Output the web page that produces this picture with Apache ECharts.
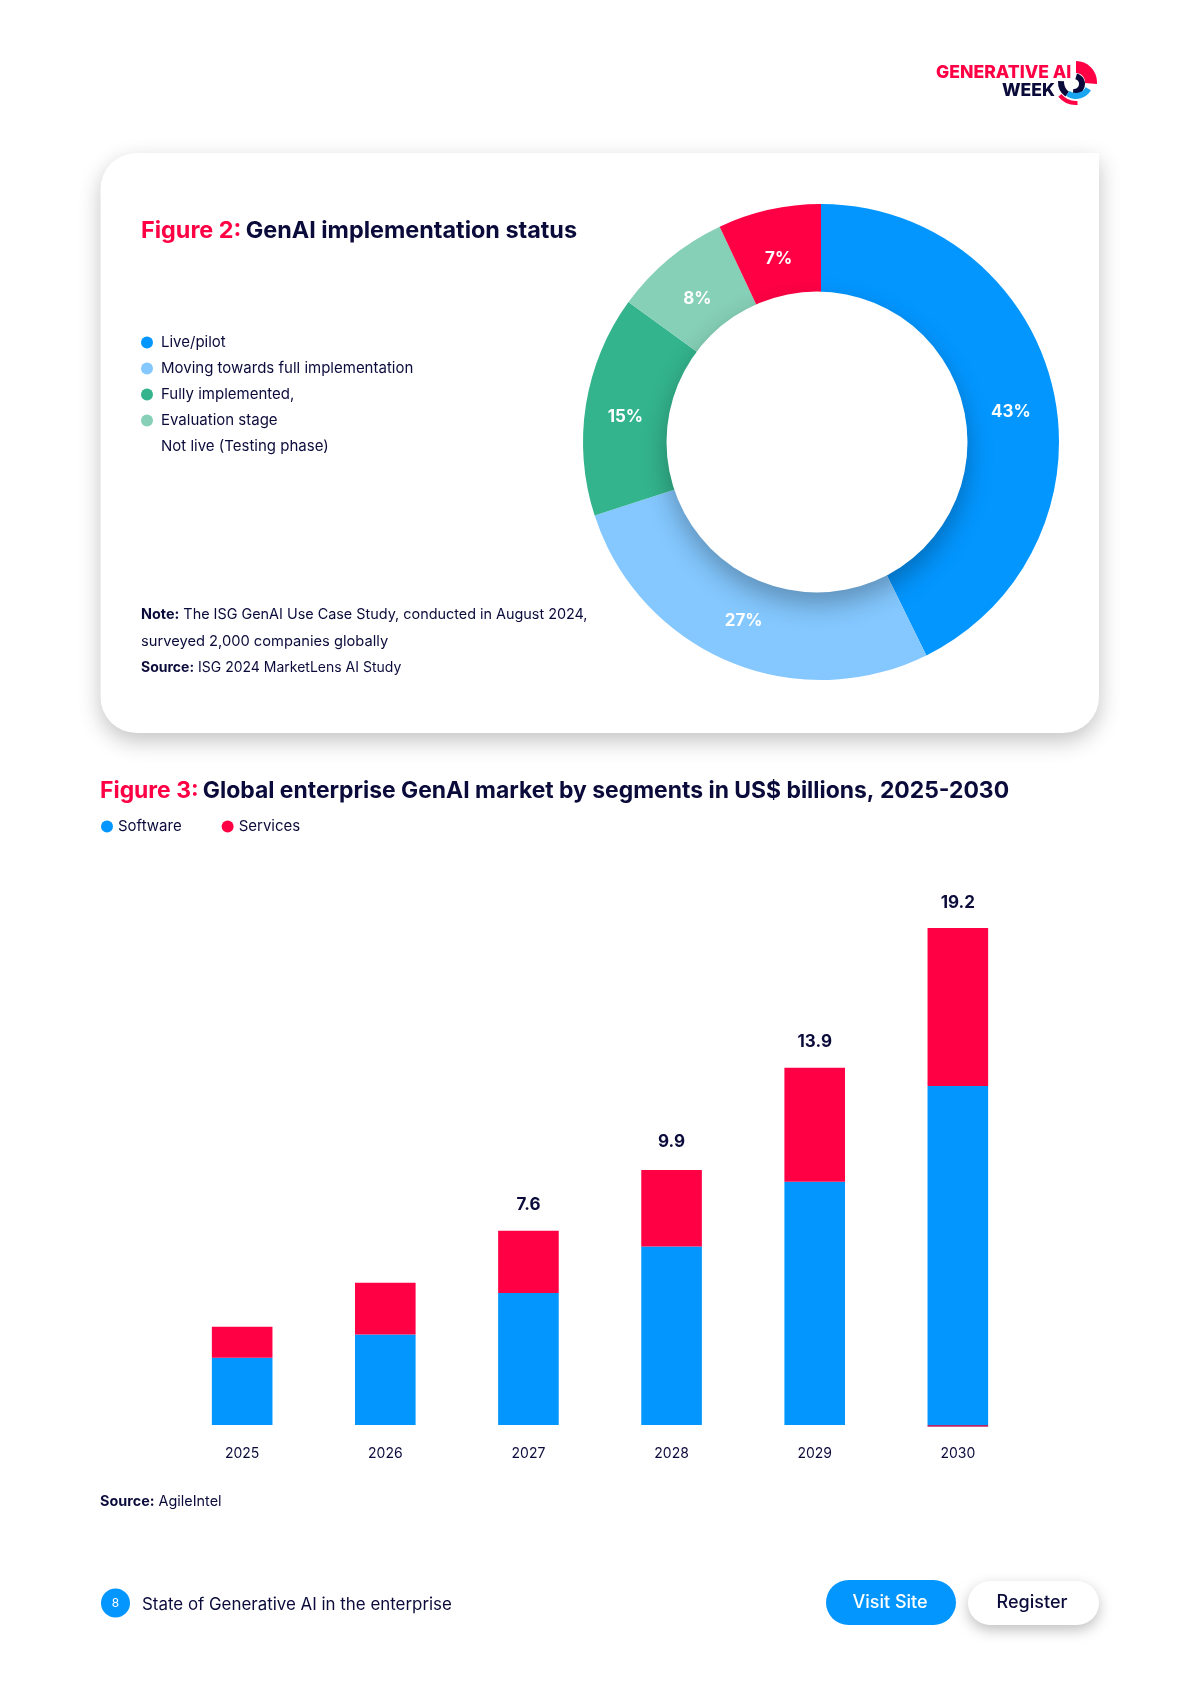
<!DOCTYPE html>
<html><head><meta charset="utf-8">
<script src="https://cdn.jsdelivr.net/npm/echarts@6/dist/echarts.min.js"></script>
<style>html,body{margin:0;padding:0;background:#fff}#c{width:1200px;height:1698px}</style>
</head><body><div id="c"></div>
<script>
const statusNames = ['Live/pilot','Moving towards full implementation','Fully implemented,','Evaluation stage','Not live (Testing phase)'];
const statusValues = [42.7,27.3,15,8,7];
const statusColors = ['#0396FF','#84C8FF','#33B48C','#86D0B7','#FF0045'];
const years = ['2025','2026','2027','2028','2029','2030'];
const software = [2.6,3.5,5.1,6.9,9.4,13.1];
const services = [1.2,2.0,2.4,2.95,4.4,6.1];
const sliver = [0,0,0,0,0,-0.07];
const shownTotals = ['','','7.6','9.9','13.9','19.2'];
const NAVY='#0B0B3B', RED='#FF0045', BLUE='#0396FF', F='Inter, sans-serif';

function txt(text,x,y,size,extra){
  return Object.assign({type:'text',x,y,z:5,style:Object.assign({text,fontFamily:F,fontSize:size,fill:NAVY,verticalAlign:'middle'},extra||{})});
}
function rich(text,x,y,size){
  return {type:'text',x,y,z:5,style:{text,fontFamily:F,fontSize:size,fill:NAVY,verticalAlign:'middle',
    rich:{b:{fontFamily:F,fontSize:size,fontWeight:700,fill:NAVY,color:NAVY},n:{fontFamily:F,fontSize:size,fill:NAVY,color:NAVY}}}};
}
const graphics=[
  {type:'rect',z:0,shape:{x:100.5,y:153,width:998.5,height:580,r:[36,0,36,36]},style:{fill:'#fff',shadowBlur:22,shadowOffsetY:8,shadowColor:'rgba(0,0,0,0.24)'}},
  {type:'circle',z:2,z2:2.5,shape:{cx:817,cy:442,r:150.5},style:{fill:'#fff',shadowBlur:26,shadowOffsetY:12,shadowColor:'rgba(0,0,0,0.28)'}},
  // logo
  {type:'sector',z:5,shape:{cx:1076,cy:82,r:21,r0:9,startAngle:-Math.PI/2,endAngle:0.1},style:{fill:RED}},
  {type:'sector',z:5,shape:{cx:1074,cy:84,r:11,r0:5,startAngle:-1.3,endAngle:1.7},style:{fill:NAVY}},
  {type:'sector',z:5,shape:{cx:1076,cy:82,r:18,r0:12,startAngle:2.2,endAngle:3.2},style:{fill:NAVY}},
  {type:'sector',z:5,shape:{cx:1076,cy:82,r:17,r0:11,startAngle:0.5,endAngle:2.2},style:{fill:'#1AA5F0'}},
  {type:'sector',z:5,shape:{cx:1076,cy:82,r:23,r0:19,startAngle:1.5,endAngle:2.45},style:{fill:RED}},
  txt('GENERATIVE AI',936,73,17.6,{fill:RED,fontWeight:800}),
  txt('WEEK',1002,90.5,17.6,{fill:NAVY,fontWeight:800}),
  // note
  rich('{b|Note:} {n|The ISG GenAI Use Case Study, conducted in August 2024,}',141,615,14.4),
  txt('surveyed 2,000 companies globally',141,642,14.7),
  rich('{b|Source:} {n|ISG 2024 MarketLens AI Study}',141,668,14),
  rich('{b|Source:} {n|AgileIntel}',100,1502,14.4),
  // footer
  {type:'circle',z:5,shape:{cx:115.5,cy:1603,r:14.5},style:{fill:BLUE}},
  txt('8',115.5,1603,12,{fill:'#fff',align:'center'}),
  txt('State of Generative AI in the enterprise',142,1605,16.9),
  {type:'rect',z:5,shape:{x:826,y:1580,width:130,height:45,r:22.5},style:{fill:BLUE}},
  txt('Visit Site',890,1603,18,{fill:'#fff',align:'center',fontWeight:500}),
  {type:'rect',z:5,shape:{x:968,y:1581,width:131,height:44,r:22},style:{fill:'#fff',shadowBlur:14,shadowOffsetY:5,shadowColor:'rgba(0,0,0,0.25)'}},
  txt('Register',1032,1603,18,{fontWeight:500,align:'center'})
];
const labelOffsets=[[1,14],[-2,0],[-4,5],[0,6.5],[0,6.5]];
const chart=echarts.init(document.getElementById('c'));
chart.setOption({
  animation:false,backgroundColor:'#fff',
  textStyle:{fontFamily:F},
  title:[
    {left:136,top:214,text:'{a|Figure 2:} {b|GenAI implementation status}',textStyle:{rich:{
      a:{fontFamily:F,fontSize:23.4,fontWeight:700,color:RED},b:{fontFamily:F,fontSize:23.4,fontWeight:700,color:NAVY}}}},
    {left:95,top:775,text:'{a|Figure 3:} {b|Global enterprise GenAI market by segments in US$ billions, 2025-2030}',textStyle:{rich:{
      a:{fontFamily:F,fontSize:22.9,fontWeight:700,color:RED},b:{fontFamily:F,fontSize:22.9,fontWeight:700,color:NAVY}}}}
  ],
  legend:[
    {seriesIndex:0,orient:'vertical',left:136,top:330,itemWidth:12,itemHeight:12,itemGap:11,icon:'circle',
     data:statusNames.map((n,i)=>i===4?{name:n,itemStyle:{color:'rgba(0,0,0,0)'}}:{name:n}),
     textStyle:{fontFamily:F,fontSize:15,color:NAVY,padding:[0,0,0,3]},selectedMode:false},
    {orient:'horizontal',left:96,top:814,itemWidth:12,itemHeight:12,itemGap:40,icon:'circle',
     data:['Software','Services'],textStyle:{fontFamily:F,fontSize:15,color:NAVY},selectedMode:false}
  ],
  grid:{left:170.6,right:170.6,top:907.3,bottom:273,containLabel:false},
  xAxis:{type:'category',data:years,axisLine:{show:false},axisTick:{show:false},
    axisLabel:{color:NAVY,fontFamily:F,fontSize:14,margin:22}},
  yAxis:{type:'value',min:0,max:20,interval:5,show:false,splitLine:{show:false}},
  series:[
    {type:'pie',name:'status',center:[821,442],radius:[144,238],startAngle:90,clockwise:true,z:2,
     data:statusNames.map((n,i)=>({name:n,value:statusValues[i],itemStyle:{color:statusColors[i]},
       label:{offset:labelOffsets[i]}})),
     label:{show:true,position:'inside',formatter:p=>Math.round(p.value)+'%',color:'#fff',fontFamily:F,fontSize:17,fontWeight:700},
     labelLine:{show:false},emphasis:{disabled:true},silent:true},
    {type:'bar',name:'Software',stack:'t',barWidth:60.6,data:software,itemStyle:{color:BLUE},silent:true},
    {type:'bar',name:'Services',stack:'t',barWidth:60.6,
     data:services.map((v,i)=>i===3?{value:v,label:{offset:[0,-3]}}:v),itemStyle:{color:RED},silent:true,
     label:{show:true,position:'top',distance:17,color:NAVY,fontFamily:F,fontSize:17,fontWeight:700,
       formatter:p=>shownTotals[p.dataIndex]}},
    {type:'bar',name:'Other',stack:'t',barWidth:60.6,data:sliver,clip:false,itemStyle:{color:'#B8266A'},silent:true}
  ],
  graphic:graphics
});
</script></body></html>
